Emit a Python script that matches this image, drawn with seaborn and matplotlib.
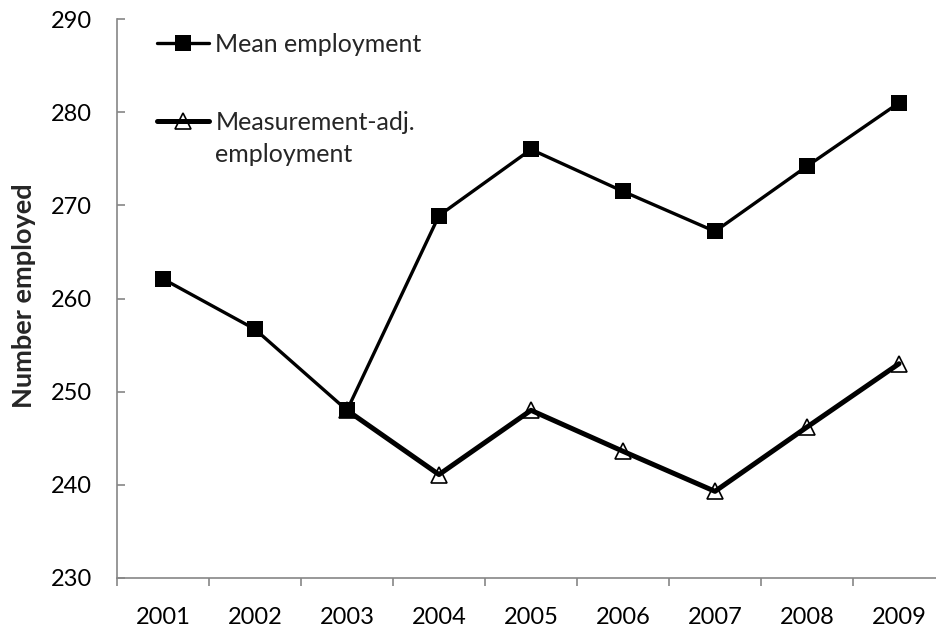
import numpy as np
import pandas as pd
import matplotlib
matplotlib.use('Agg')
import matplotlib.pyplot as plt
import seaborn as sns

years = ['2001', '2002', '2003', '2004', '2005', '2006', '2007', '2008', '2009']
mean_emp = [262.1, 256.7, 248.0, 268.9, 276.0, 271.5, 267.2, 274.2, 281.0]
adj_emp = [np.nan, np.nan, 248.0, 241.1, 248.0, 243.6, 239.3, 246.2, 253.0]
y_ticks = [230, 240, 250, 260, 270, 280, 290]

sns.set_style('white')
plt.rcParams['font.family'] = ['Lato', 'DejaVu Sans']

df = pd.DataFrame({'pos': np.arange(len(years)), 'mean': mean_emp, 'adj': adj_emp})

fig = plt.figure(figsize=(9.36, 6.28), dpi=100)
ax = fig.add_axes([117 / 936, 50 / 628, 828 / 936, 559 / 628])

# adjusted series: thick line, hollow triangles
sns.lineplot(data=df.dropna(), x='pos', y='adj', ax=ax, color='black', lw=3.6,
             marker='^', markersize=11, markerfacecolor='none',
             markeredgecolor='black', markeredgewidth=1.2,
             label='Measurement-adj.', zorder=2)
# mean series: filled squares
sns.lineplot(data=df, x='pos', y='mean', ax=ax, color='black', lw=2.4,
             marker='s', markersize=11, markeredgewidth=0,
             label='Mean employment', zorder=3)

ax.set_xlim(-0.5, len(years) - 0.5)
ax.set_ylim(230, 290)
ax.set_yticks(y_ticks)
ax.set_xticks(np.arange(-0.5, len(years)), labels=[''] * (len(years) + 1))
ax.set_xticks(np.arange(len(years)), labels=years, minor=True)
ax.set_xlabel('')
ax.set_ylabel('')

for s in ['top', 'right']:
    ax.spines[s].set_visible(False)
for s in ['left', 'bottom']:
    ax.spines[s].set_color('#868686')
    ax.spines[s].set_linewidth(1.2)

ax.tick_params(axis='y', direction='in', length=6, width=1.2, color='#868686',
               labelsize=17, labelcolor='black', pad=18, left=True)
ax.tick_params(axis='x', which='major', direction='out', length=6, width=1.2,
               color='#868686', bottom=True)
ax.tick_params(axis='x', which='minor', length=0, labelsize=17,
               labelcolor='black', pad=21)

fig.text(24 / 936, 1 - 296 / 628, 'Number employed', rotation=90, ha='center',
         va='center', fontsize=19.5, fontweight='bold')

h, l = ax.get_legend_handles_labels()
leg = ax.legend(h[::-1], l[::-1], loc='upper left', bbox_to_anchor=(0.048, 0.975),
                frameon=False, fontsize=18, handlelength=2.1, handletextpad=0.25,
                labelspacing=2.2, borderpad=0, borderaxespad=0)

# second line of the adjusted-series label, under its first line
fig.canvas.draw()
bb = leg.get_texts()[1].get_window_extent()
fig.text(bb.x0 / 936, (bb.y0 - 32) / 628, 'employment', fontsize=18,
         ha='left', va='bottom')

fig.savefig('out.png', dpi=100)
